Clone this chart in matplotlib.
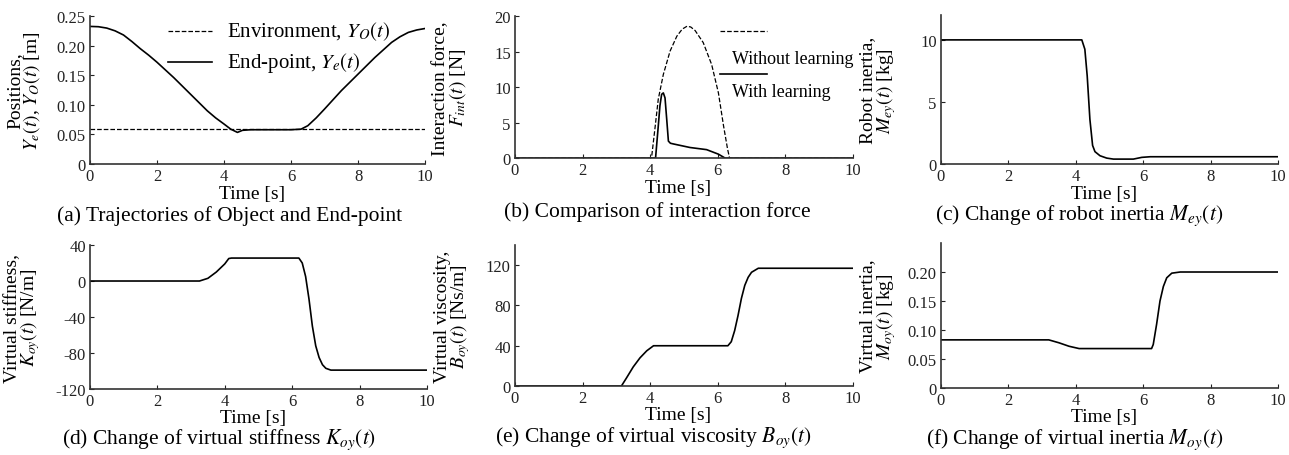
import numpy as np
import matplotlib
matplotlib.use("Agg")
import matplotlib.pyplot as plt

plt.rcParams['font.family'] = ['Liberation Serif', 'DejaVu Serif']
plt.rcParams['mathtext.fontset'] = 'stix'

# (a) positions
t_pos = [0, 0.25, 0.5, 0.75, 1.0, 1.25, 1.5, 1.75, 2.0, 2.5, 3.0, 3.25, 3.5, 3.75, 4.0, 4.2, 4.4, 4.55, 4.8, 5.5,
         6.0, 6.3, 6.5, 6.75, 7.0, 7.5, 8.0, 8.5, 9.0, 9.25, 9.5, 9.75, 10]
y_end = [0.2325, 0.232, 0.2297, 0.225, 0.218, 0.207, 0.195, 0.184, 0.172, 0.146, 0.118, 0.104, 0.090, 0.078,
         0.0676, 0.059, 0.0535, 0.057, 0.058, 0.058, 0.058, 0.059, 0.0648, 0.078, 0.093, 0.124, 0.152, 0.180,
         0.2055, 0.215, 0.2224, 0.2265, 0.229]
t_env = [0, 10]
y_env = [0.06, 0.06]

# (b) interaction force
t_nolearn = [0, 4.04, 4.14, 4.24, 4.39, 4.59, 4.79, 4.95, 5.09, 5.2, 5.33, 5.57, 5.82, 6.02, 6.17, 6.29, 6.35, 10]
f_nolearn = [0, 0, 4.1, 8.3, 11.8, 15.1, 17.2, 18.2, 18.6, 18.5, 18.0, 16.3, 13.2, 9.2, 4.6, 1.3, 0, 0]
t_learn = [0, 4.16, 4.24, 4.29, 4.34, 4.39, 4.44, 4.49, 4.54, 4.6, 4.69, 5.18, 5.67, 6.02, 6.22, 10]
f_learn = [0, 0, 4.5, 7.4, 9.0, 9.2, 8.5, 5.5, 2.4, 2.1, 2.0, 1.5, 1.2, 0.56, 0, 0]

# (c) robot inertia
t_mey = [0, 4.18, 4.27, 4.34, 4.42, 4.5, 4.57, 4.72, 4.92, 5.12, 5.71, 5.96, 6.21, 10]
m_ey = [10, 10, 9.25, 7.1, 3.6, 1.5, 1.0, 0.67, 0.48, 0.4, 0.4, 0.54, 0.59, 0.59]

# (d) virtual stiffness
t_koy = [0, 3.25, 3.5, 3.75, 4.0, 4.12, 4.2, 6.2, 6.3, 6.4, 6.5, 6.6, 6.7, 6.8, 6.9, 7.0, 7.15, 10]
k_oy = [0, 0, 3, 10, 19, 25, 25.5, 25.5, 20, 5, -20, -50, -72, -85, -93, -97, -99, -99]

# (e) virtual viscosity
t_boy = [0, 3.15, 3.3, 3.5, 3.7, 3.9, 4.1, 6.3, 6.4, 6.5, 6.6, 6.7, 6.8, 6.9, 7.0, 7.2, 10]
b_oy = [0, 0, 8, 19, 28, 35, 40, 40, 44, 55, 70, 87, 100, 108, 113, 117, 117]

# (f) virtual inertia
t_moy = [0, 3.2, 3.5, 3.8, 4.1, 6.25, 6.3, 6.4, 6.5, 6.6, 6.7, 6.85, 7.1, 10]
m_oy = [0.083, 0.083, 0.078, 0.072, 0.068, 0.068, 0.075, 0.11, 0.15, 0.175, 0.19, 0.198, 0.2, 0.2]

fig = plt.figure(figsize=(12.89, 4.56), dpi=100)

def setup(rect, ylim, yticks, ylabels, ylabel, lab_x, xlab_y):
    ax = fig.add_axes(rect)
    ax.set_xlim(0, 10)
    ax.set_ylim(*ylim)
    ax.set_xticks([0, 2, 4, 6, 8, 10])
    ax.set_yticks(yticks)
    ax.set_yticklabels(ylabels)
    for s in ['top', 'right']:
        ax.spines[s].set_visible(False)
    for s in ['left', 'bottom']:
        ax.spines[s].set_linewidth(1.2)
        ax.spines[s].set_color('#333333')
    ax.tick_params(direction='in', length=3, width=0.8, labelsize=12, pad=3, colors='#222222')
    ax.set_xlabel('Time [s]', fontsize=14)
    ax.xaxis.set_label_coords(0.484, xlab_y)
    ax.set_ylabel(ylabel, fontsize=14, linespacing=0.85)
    ax.yaxis.set_label_coords(lab_x, 0.5)
    return ax

lw = 1.2

ax = setup([0.0698, 0.638, 0.260, 0.3246], (0, 0.25),
           [0, 0.05, 0.10, 0.15, 0.20, 0.25], ['0', '0.05', '0.10', '0.15', '0.20', '0.25'],
           'Positions,\n$Y_e(t)$, $Y_O(t)$ [m]', -0.143, -0.142)
ax.plot(t_env, y_env, 'k--', lw=0.9)
ax.plot(t_pos, y_end, 'k-', lw=lw)
ax.plot([0.233, 0.364], [0.899, 0.899], 'k--', lw=0.9, transform=ax.transAxes)
ax.plot([0.233, 0.364], [0.69, 0.69], 'k-', lw=lw, transform=ax.transAxes)
ax.text(0.409, 0.899, 'Environment, $Y_O(t)$', fontsize=15, va='center', transform=ax.transAxes)
ax.text(0.409, 0.69, 'End-point, $Y_e(t)$', fontsize=15, va='center', transform=ax.transAxes)

ax = setup([0.3995, 0.651, 0.2622, 0.311], (0, 20),
           [0, 5, 10, 15, 20], ['0', '5', '10', '15', '20'],
           'Interaction force,\n$F_{int}(t)$ [N]', -0.139, -0.148)
ax.plot(t_nolearn, f_nolearn, 'k--', lw=0.9)
ax.plot(t_learn, f_learn, 'k-', lw=lw)
ax.plot([0.607, 0.746], [0.894, 0.894], 'k--', lw=0.9, transform=ax.transAxes)
ax.plot([0.607, 0.746], [0.59, 0.59], 'k-', lw=lw, transform=ax.transAxes)
ax.text(0.642, 0.70, 'Without learning', fontsize=13, va='center', transform=ax.transAxes)
ax.text(0.642, 0.47, 'With learning', fontsize=13, va='center', transform=ax.transAxes)

ax = setup([0.730, 0.638, 0.2614, 0.3268], (0, 12),
           [0, 5, 10], ['0', '5', '10'],
           'Robot inertia,\n$M_{ey}(t)$ [kg]', -0.128, -0.141)
ax.plot(t_mey, m_ey, 'k-', lw=lw)

ax = setup([0.0698, 0.1447, 0.2614, 0.3158], (-120, 40),
           [-120, -80, -40, 0, 40], ['-120', '-80', '-40', '0', '40'],
           'Virtual stiffness,\n$K_{oy}(t)$ [N/m]', -0.142, -0.139)
ax.plot(t_koy, k_oy, 'k-', lw=lw)

ax = setup([0.3995, 0.1513, 0.2622, 0.309], (0, 140),
           [0, 40, 80, 120], ['0', '40', '80', '120'],
           'Virtual viscosity,\n$B_{oy}(t)$ [Ns/m]', -0.127, -0.142)
ax.plot(t_boy, b_oy, 'k-', lw=lw)

ax = setup([0.730, 0.1469, 0.2614, 0.318], (0, 0.25),
           [0, 0.05, 0.10, 0.15, 0.20], ['0', '0.05', '0.10', '0.15', '0.20'],
           'Virtual inertia,\n$M_{oy}(t)$ [kg]', -0.128, -0.138)
ax.plot(t_moy, m_oy, 'k-', lw=lw)

captions = ['(a) Trajectories of Object and End-point',
            '(b) Comparison of interaction force',
            '(c) Change of robot inertia $M_{ey}(t)$',
            '(d) Change of virtual stiffness $K_{oy}(t)$',
            '(e) Change of virtual viscosity $B_{oy}(t)$',
            '(f) Change of virtual inertia $M_{oy}(t)$']
cap_x = [230, 657, 1079, 219, 653, 1075]
cap_y = [216, 212, 216, 440, 438, 440]
for c, x, y in zip(captions, cap_x, cap_y):
    fig.text(x / 1289, 1 - y / 456, c, fontsize=15.5, ha='center', va='center')

fig.savefig('out.png', dpi=100)
